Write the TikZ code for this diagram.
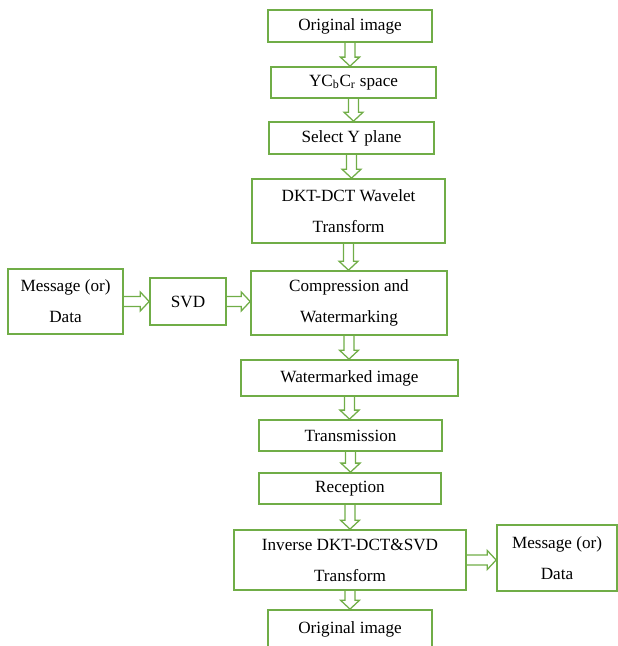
\documentclass[tikz,border=0pt]{standalone}
\usepackage{fontspec}
\setmainfont{Liberation Serif}
\usetikzlibrary{calc}
\definecolor{wordgreen}{RGB}{112,173,71}

\tikzset{
  flowbox/.style={draw=wordgreen, line width=1.2pt, fill=white, align=center,
    inner sep=0pt, font=\fontsize{12.2}{22}\selectfont},
  downflow/.style={draw=wordgreen, line width=0.9pt, to path={
    let \p1=(\tikztostart), \p2=(\tikztotarget) in
    ({\x1-0.125cm},\y1) -- ({\x1-0.125cm},{\y2+0.225cm}) -- ({\x1-0.24cm},{\y2+0.225cm})
    -- (\x1,\y2) -- ({\x1+0.24cm},{\y2+0.225cm}) -- ({\x1+0.125cm},{\y2+0.225cm})
    -- ({\x1+0.125cm},\y1)}},
  rightflow/.style={draw=wordgreen, line width=0.9pt, to path={
    let \p1=(\tikztostart), \p2=(\tikztotarget) in
    (\x1,{\y1+0.125cm}) -- ({\x2-0.225cm},{\y1+0.125cm}) -- ({\x2-0.225cm},{\y1+0.24cm})
    -- (\x2,\y1) -- ({\x2-0.225cm},{\y1-0.24cm}) -- ({\x2-0.225cm},{\y1-0.125cm})
    -- (\x1,{\y1-0.125cm})}}
}

\begin{document}
\begin{tikzpicture}
\useasboundingbox (0,0) rectangle (15.425,16.150);

% main column
\node[flowbox, minimum width=4.100cm, minimum height=0.800cm] (orig) at (8.750,15.500) {Original image};
\node[flowbox, minimum width=4.125cm, minimum height=0.775cm] (ycc) at (8.838,14.088) {YC\textsubscript{b}C\textsubscript{r} space};
\node[flowbox, minimum width=4.125cm, minimum height=0.800cm] (yplane) at (8.788,12.700) {Select Y plane};
\node[flowbox, minimum width=4.825cm, minimum height=1.600cm] (dkt) at (8.713,10.875) {DKT-DCT Wavelet\\Transform};
\node[flowbox, minimum width=4.900cm, minimum height=1.600cm] (comp) at (8.725,8.575) {Compression and\\Watermarking};
\node[flowbox, minimum width=5.425cm, minimum height=0.900cm] (wmimg) at (8.738,6.700) {Watermarked image};
\node[flowbox, minimum width=4.575cm, minimum height=0.775cm] (trans) at (8.763,5.263) {Transmission};
\node[flowbox, minimum width=4.550cm, minimum height=0.775cm] (recep) at (8.750,3.938) {Reception};
\node[flowbox, minimum width=5.800cm, minimum height=1.500cm] (inv) at (8.750,2.150) {Inverse DKT-DCT\&SVD\\Transform};
\node[flowbox, minimum width=4.100cm, minimum height=0.950cm] (recov) at (8.750,0.425) {Original image};

% side boxes
\node[flowbox, minimum width=2.875cm, minimum height=1.625cm] (msgin) at (1.638,8.613) {Message (or)\\Data};
\node[flowbox, minimum width=1.900cm, minimum height=1.175cm] (svd) at (4.700,8.613) {SVD};
\node[flowbox, minimum width=3.000cm, minimum height=1.650cm] (msgout) at (13.925,2.200) {Message (or)\\Data};

% hollow arrows
\draw[downflow] (orig.south) to (ycc.north);
\draw[downflow] (ycc.south) to (yplane.north);
\draw[downflow] (yplane.south) to (dkt.north);
\draw[downflow] (dkt.south) to (comp.north);
\draw[downflow] (comp.south) to (wmimg.north);
\draw[downflow] (wmimg.south) to (trans.north);
\draw[downflow] (trans.south) to (recep.north);
\draw[downflow] (recep.south) to (inv.north);
\draw[downflow] (inv.south) to (recov.north);
\draw[rightflow] (msgin.east) to (svd.west);
\draw[rightflow] (svd.east) to (comp.west);
\draw[rightflow] (inv.east) to (msgout.west);
\end{tikzpicture}
\end{document}
